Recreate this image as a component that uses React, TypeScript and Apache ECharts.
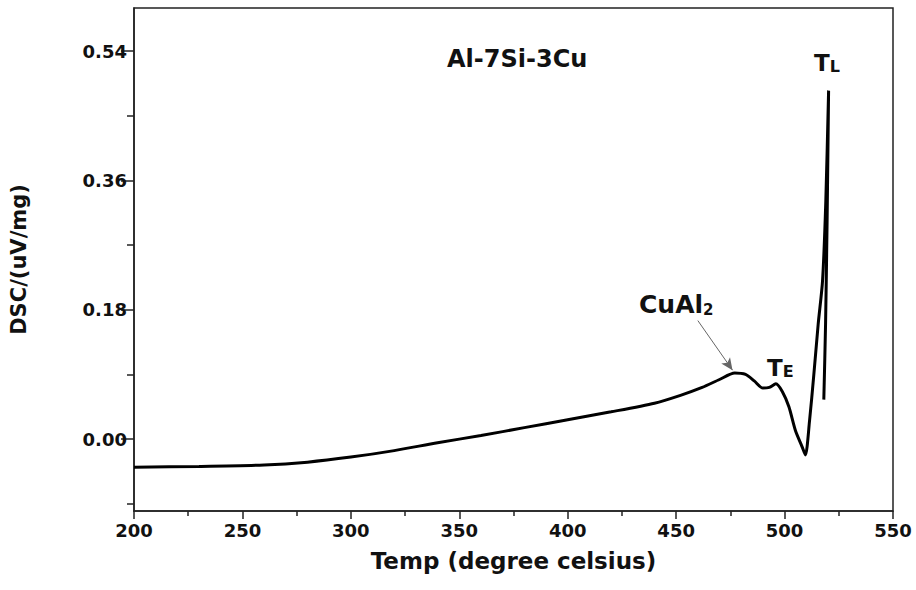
import React, { useEffect, useRef } from "react";
import * as echarts from "echarts";

const temps: number[] = [
  200, 230, 260, 280, 300, 320, 340, 360, 380, 400, 420, 440, 452, 462, 470, 477,
  482, 486, 490, 493, 496, 499, 502, 505, 508, 509.6, 511.5, 513.5, 515.5, 517.5,
  519, 520.3, 519.6, 518.9, 518.1,
];
const dsc: number[] = [
  -0.039, -0.038, -0.036, -0.032, -0.025, -0.016, -0.005, 0.005, 0.016, 0.027, 0.038,
  0.05, 0.061, 0.072, 0.083, 0.092, 0.09, 0.081, 0.071, 0.072, 0.077, 0.066, 0.045,
  0.012, -0.01, -0.022, 0.025, 0.09, 0.16, 0.22, 0.33, 0.485, 0.3, 0.16, 0.055,
];
const yMajor: number[] = [0, 0.18, 0.36, 0.54];
const yMinor: number[] = [-0.09, 0.09, 0.27, 0.45];
const arrowFrom: number[] = [460, 0.165];
const arrowTo: number[] = [476, 0.096];

const FONT = "DejaVu Sans";

export default function App() {
  const ref = useRef<HTMLDivElement>(null);
  useEffect(() => {
    if (!ref.current) return;
    const chart = echarts.init(ref.current, null, { renderer: "svg" });
    const data = temps.map((t, i) => [t, dsc[i]]);
    chart.setOption({
      animation: false,
      backgroundColor: "#fff",
      grid: {
        left: 130,
        right: 23,
        top: 8,
        bottom: 79,
        show: true,
        borderColor: "#222",
        borderWidth: 1.5,
      },
      xAxis: {
        type: "value",
        min: 200,
        max: 550,
        interval: 50,
        name: "Temp (degree celsius)",
        nameLocation: "middle",
        nameGap: 38,
        nameTextStyle: { fontFamily: FONT, fontWeight: "bold", fontSize: 23, color: "#111" },
        axisLine: { show: true, onZero: false, lineStyle: { color: "#222", width: 1.5 } },
        axisTick: { show: true, inside: false, length: 8, lineStyle: { color: "#222", width: 1.5 } },
        minorTick: { show: true, splitNumber: 2, length: 5, lineStyle: { color: "#222", width: 1.5 } },
        axisLabel: {
          fontFamily: FONT,
          fontWeight: "bold",
          fontSize: 18,
          color: "#111",
          margin: 10,
        },
        splitLine: { show: false },
      },
      yAxis: [
        {
          type: "value",
          min: -0.1,
          max: 0.6,
          position: "left",
          name: "DSC/(uV/mg)",
          nameLocation: "middle",
          nameGap: 105,
          nameRotate: 90,
          nameTextStyle: { fontFamily: FONT, fontWeight: "bold", fontSize: 21, color: "#111" },
          axisLine: { show: true, onZero: false, lineStyle: { color: "#222", width: 1.5 } },
          axisTick: { show: true, length: 13, customValues: yMajor, lineStyle: { color: "#222", width: 1.5 } },
          axisLabel: {
            customValues: yMajor,
            formatter: (v: number) => v.toFixed(2),
            fontFamily: FONT,
            fontWeight: "bold",
            fontSize: 18,
            color: "#111",
            margin: 7,
          },
          splitLine: { show: false },
        },
        {
          type: "value",
          min: -0.1,
          max: 0.6,
          position: "left",
          axisLine: { show: false, onZero: false },
          axisTick: { show: true, length: 7, customValues: yMinor, lineStyle: { color: "#222", width: 1.5 } },
          axisLabel: { show: false },
          splitLine: { show: false },
        },
      ],
      series: [
        {
          type: "line",
          data,
          yAxisIndex: 0,
          showSymbol: false,
          smooth: 0.25,
          lineStyle: { color: "#000", width: 3 },
          markLine: {
            silent: true,
            symbol: ["none", "arrow"],
            symbolSize: [8, 12],
            label: { show: false },
            lineStyle: { color: "#666", width: 1, type: "solid" },
            itemStyle: { color: "#333" },
            data: [[{ coord: arrowFrom }, { coord: arrowTo }]],
          },
        },
      ],
      graphic: [
        {
          type: "text",
          left: 447,
          top: 47,
          style: {
            text: "Al-7Si-3Cu",
            fontFamily: FONT,
            fontWeight: "bold",
            fontSize: 24,
            fill: "#111",
          },
        },
        {
          type: "text",
          left: 639,
          top: 292,
          style: {
            text: "{a|CuAl}{b|2}",
            rich: {
              a: { fontFamily: FONT, fontWeight: "bold", fontSize: 25, fill: "#111", color: "#111" },
              b: { fontFamily: FONT, fontWeight: "bold", fontSize: 15, fill: "#111", color: "#111", verticalAlign: "bottom" },
            },
          },
        },
        {
          type: "text",
          left: 767,
          top: 356,
          style: {
            text: "{a|T}{b|E}",
            rich: {
              a: { fontFamily: FONT, fontWeight: "bold", fontSize: 23, fill: "#111", color: "#111" },
              b: { fontFamily: FONT, fontWeight: "bold", fontSize: 16, fill: "#111", color: "#111", verticalAlign: "bottom" },
            },
          },
        },
        {
          type: "text",
          left: 814,
          top: 51,
          style: {
            text: "{a|T}{b|L}",
            rich: {
              a: { fontFamily: FONT, fontWeight: "bold", fontSize: 23, fill: "#111", color: "#111" },
              b: { fontFamily: FONT, fontWeight: "bold", fontSize: 16, fill: "#111", color: "#111", verticalAlign: "bottom" },
            },
          },
        },
      ],
    });
    return () => chart.dispose();
  }, []);
  return (
    <div
      ref={ref}
      style={{ position: "absolute", left: 0, top: 0, width: 916, height: 590, background: "#fff" }}
    />
  );
}
